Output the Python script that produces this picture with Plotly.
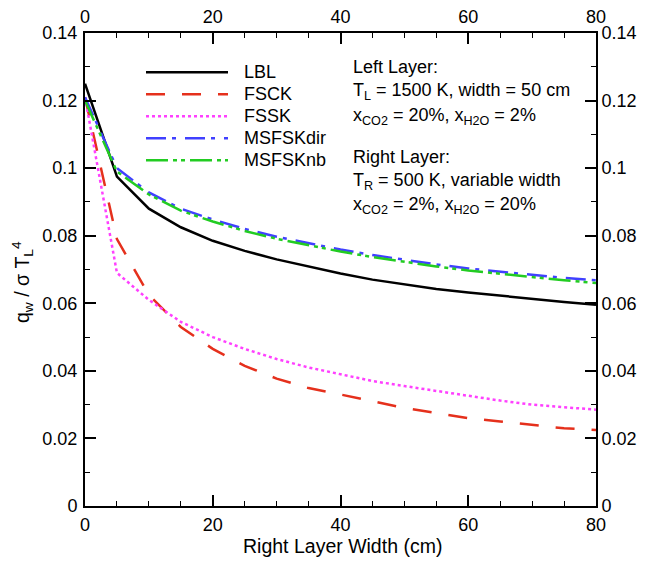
import plotly.graph_objects as go

width_cm = [0, 5, 10, 15, 20, 25, 30, 35, 40, 45, 50, 55, 60, 65, 70, 75, 80]
lbl = [0.125, 0.0975, 0.088, 0.0825, 0.0785, 0.0755, 0.073, 0.0708, 0.0688, 0.067, 0.0655, 0.0642, 0.0632, 0.0622, 0.0613, 0.0604, 0.0596]
fsck = [0.121, 0.079, 0.0625, 0.053, 0.0465, 0.0415, 0.0377, 0.0349, 0.033, 0.031, 0.029, 0.0275, 0.026, 0.025, 0.024, 0.023, 0.0225]
fssk = [0.121, 0.069, 0.061, 0.0545, 0.050, 0.0465, 0.0435, 0.041, 0.039, 0.037, 0.0355, 0.034, 0.0325, 0.0312, 0.0300, 0.0292, 0.0285]
msfsk_dir = [0.121, 0.100, 0.0928, 0.088, 0.0848, 0.082, 0.0797, 0.0777, 0.0759, 0.0743, 0.0728, 0.0715, 0.0703, 0.0693, 0.0683, 0.0675, 0.0668]
msfsk_nb = [0.120, 0.099, 0.0922, 0.0874, 0.0842, 0.0814, 0.0791, 0.0771, 0.0753, 0.0737, 0.0722, 0.0709, 0.0697, 0.0687, 0.0677, 0.0668, 0.0660]

x_ticks = [0, 20, 40, 60, 80]
y_ticks = [0, 0.02, 0.04, 0.06, 0.08, 0.1, 0.12, 0.14]
y_tick_labels = ["0", "0.02", "0.04", "0.06", "0.08", "0.1", "0.12", "0.14"]

FONT = "Liberation Sans, Arial, Helvetica, sans-serif"

# the page body has an 8px default margin; work in page pixels and shift
OFF = 8
W, H = 648 - OFF, 562 - OFF
L, R, T, B = 85, 596, 33, 506  # plot-area frame in page pixels

series = [
    ("LBL", lbl, "#000000", "solid"),
    ("FSCK", fsck, "#e5301c", "19px,17px"),
    ("FSSK", fssk, "#ff40ff", "3px,3px"),
    ("MSFSKdir", msfsk_dir, "#4040ff", "20px,6px,4px,9px"),
    ("MSFSKnb", msfsk_nb, "#22cc22", "22px,5px,4px,4px,4px,5px"),
]

def px(xpix):
    return (xpix - L) / (R - L)

def py(ypix):
    return 1 - (ypix - T) / (B - T)

fig = go.Figure()
for name, vals, color, dash in series:
    fig.add_trace(go.Scatter(x=width_cm, y=vals, mode="lines", name=name,
                             line=dict(color=color, width=2.5, dash=dash),
                             showlegend=False))

# invisible trace for secondary axes
fig.add_trace(go.Scatter(x=[0, 80], y=[0, 0.14], xaxis="x2", yaxis="y2",
                         mode="lines", line=dict(width=0), opacity=0,
                         showlegend=False, hoverinfo="skip"))

# legend drawn manually
for i, (name, vals, color, dash) in enumerate(series):
    y = 72.3 + i * 22
    fig.add_shape(type="line", xref="paper", yref="paper", x0=px(146), x1=px(228),
                  y0=py(y), y1=py(y), line=dict(color=color, width=2.5, dash=dash))
    fig.add_annotation(xref="paper", yref="paper", x=px(242), y=py(y),
                       text=name, showarrow=False, xanchor="left", yanchor="middle",
                       font=dict(size=18, color="black", family=FONT))

info_lines = [
    (67, "Left Layer:"),
    (92, "T<sub>L</sub> = 1500 K, width = 50 cm"),
    (116, "x<sub>CO2</sub> = 20%, x<sub>H2O</sub> = 2%"),
    (157, "Right Layer:"),
    (181, "T<sub>R</sub> = 500 K, variable width"),
    (205, "x<sub>CO2</sub> = 2%, x<sub>H2O</sub> = 20%"),
]
for y, txt in info_lines:
    fig.add_annotation(xref="paper", yref="paper", x=px(351), y=py(y),
                       text=txt, showarrow=False, xanchor="left", yanchor="middle",
                       font=dict(size=18, color="black", family=FONT))

# axis titles
fig.add_annotation(xref="paper", yref="paper", x=px((L + R) / 2 + 2), y=py(546),
                   text="Right Layer Width (cm)", showarrow=False,
                   xanchor="center", yanchor="middle",
                   font=dict(size=19.5, color="black", family=FONT))
fig.add_annotation(xref="paper", yref="paper", x=px(22), y=py(282),
                   text="q<sub>w</sub> / σ T<sub>L</sub><sup>4</sup>", showarrow=False,
                   textangle=-90, xanchor="center", yanchor="middle",
                   font=dict(size=19.5, color="black", family=FONT))

axis_common = dict(
    showgrid=False, zeroline=False, showline=True, linecolor="black", linewidth=2,
    ticks="inside", ticklen=11, tickwidth=2, tickcolor="black", automargin=False,
    tickfont=dict(size=18, color="black", family=FONT),
)
minor_x = dict(dtick=5, ticks="inside", ticklen=5, tickwidth=1, tickcolor="black")
minor_y = dict(dtick=0.01, ticks="inside", ticklen=5, tickwidth=1, tickcolor="black")

fig.update_layout(
    width=W, height=H,
    margin=dict(l=L - OFF, r=W - (R - OFF), t=T - OFF, b=H - (B - OFF)),
    paper_bgcolor="white", plot_bgcolor="white",
    showlegend=False,
    xaxis=dict(range=[0, 80], tickvals=x_ticks, ticktext=[str(v) for v in x_ticks],
               minor=minor_x, ticklabelstandoff=1, **axis_common),
    yaxis=dict(range=[0, 0.14], tickvals=y_ticks, ticktext=y_tick_labels,
               minor=minor_y, ticklabelstandoff=2, **axis_common),
    xaxis2=dict(range=[0, 80], overlaying="x", side="top", anchor="y", tickvals=x_ticks,
                ticktext=[str(v) for v in x_ticks], minor=minor_x, ticklabelstandoff=1,
                **axis_common),
    yaxis2=dict(range=[0, 0.14], overlaying="y", side="right", anchor="x", tickvals=y_ticks,
                ticktext=y_tick_labels, minor=minor_y, **axis_common),
)

fig.write_html("out.html")
